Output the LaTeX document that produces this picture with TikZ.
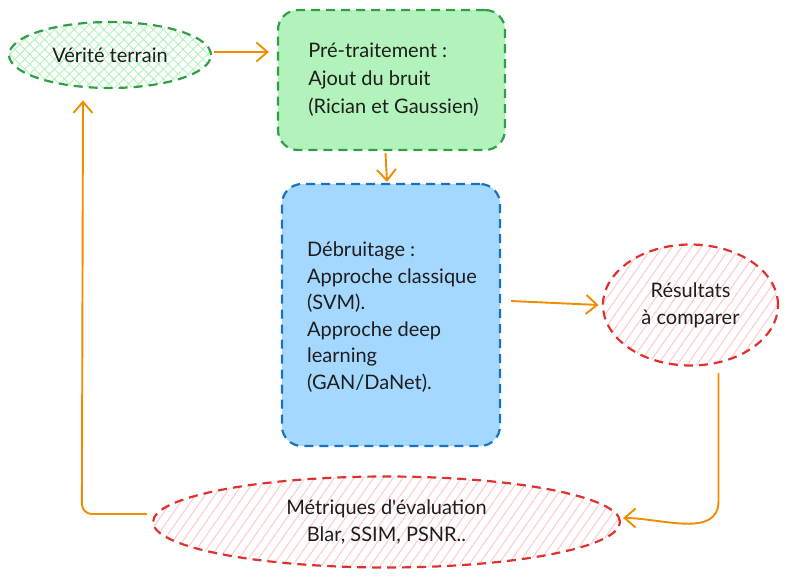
\documentclass[tikz,border=0pt]{standalone}
\usepackage{fontspec}
\setmainfont{Lato}[Ligatures=TeXOff]
\usetikzlibrary{arrows.meta,shapes.geometric,patterns.meta,calc}
\definecolor{gfill}{HTML}{B2F2BB}
\definecolor{gline}{HTML}{2F9E44}
\definecolor{bfill}{HTML}{A5D8FF}
\definecolor{bline}{HTML}{1971C2}
\definecolor{rfill}{HTML}{FFC9C9}
\definecolor{rline}{HTML}{E03131}
\definecolor{orng}{HTML}{F08C00}
\definecolor{ink}{HTML}{1E1E1E}
\tikzset{
  dsh/.style={line width=2.2pt, dash pattern=on 9pt off 6pt},
  txt/.style={text=ink, font=\fontsize{20}{27}\selectfont, align=left},
  ctxt/.style={text=ink, font=\fontsize{20}{27}\selectfont, align=center},
  greenell/.style={ellipse, draw=gline, dsh, inner sep=0pt,
    pattern={Hatch[angle=45,distance=7pt,line width=0.9pt]}, pattern color=gfill},
  redell/.style={ellipse, draw=rline, dsh, inner sep=0pt,
    pattern={Lines[angle=55,distance=8pt,line width=1pt]}, pattern color=rfill},
  gbox/.style={draw=gline, fill=gfill, dsh, rounded corners=20pt, inner sep=0pt},
  bbox/.style={draw=bline, fill=bfill, dsh, rounded corners=20pt, inner sep=0pt},
  arr/.style={draw=orng, line width=1.9pt, -{Straight Barb[length=11pt,width=19pt,line width=1.9pt]}}
}
\begin{document}
\begin{tikzpicture}[x=1pt,y=-1pt]
\useasboundingbox (0,0) rectangle (788,579);
% nodes
\node[greenell, minimum width=202pt, minimum height=66pt] (ver) at (110,55) {};
\node[ctxt] at (ver.center) {Vérité terrain};
\node[gbox, minimum width=227pt, minimum height=140pt] (pre) at (391.5,80) {};
\node[txt, font=\fontsize{20}{28}\selectfont] at ($(pre.center)+(2,0)$) {Pré-traitement :\\Ajout du bruit\\(Rician et Gaussien)};
\node[bbox, minimum width=218pt, minimum height=262pt] (deb) at (391,315) {};
\node[txt, font=\fontsize{20}{26.5}\selectfont] at ($(deb.center)+(1,2)$) {Débruitage :\\Approche classique\\(SVM).\\Approche deep\\learning\\(GAN/DaNet).};
\node[redell, minimum width=175pt, minimum height=121pt] (res) at (690.5,305) {};
\node[ctxt] at ($(res.center)+(0,0)$) {Résultats\\à comparer};
\node[redell, minimum width=467pt, minimum height=91pt] (met) at (386.5,522) {};
\node[ctxt] at (met.center) {Métriques d'évaluation\\Blar, SSIM, PSNR..};
% connectors
\draw[arr] ($(ver.east)+(3,-3)$) -- ($(pre.west)+(-8,-28)$);
\draw[arr] ($(pre.south)+(-6,2)$) -- ($(deb.north)+(-4,-1)$);
\draw[arr] ($(deb.east)+(10,-14)$) -- ($(res.west)+(-4,0)$);
\draw[arr] ($(res.south)+(28,7)$) -- ($(res.south)+(28,135)$) to[out=-90,in=0] ($(met.east)+(2,-4)$);
\draw[arr] ($(met.west)+(-5,-8)$) -- ($(met.west)+(-60,-8)$) to[out=180,in=-90] ($(met.west)+(-70,-18)$) -- ($(ver.south)+(-27,12)$);
\end{tikzpicture}
\end{document}
